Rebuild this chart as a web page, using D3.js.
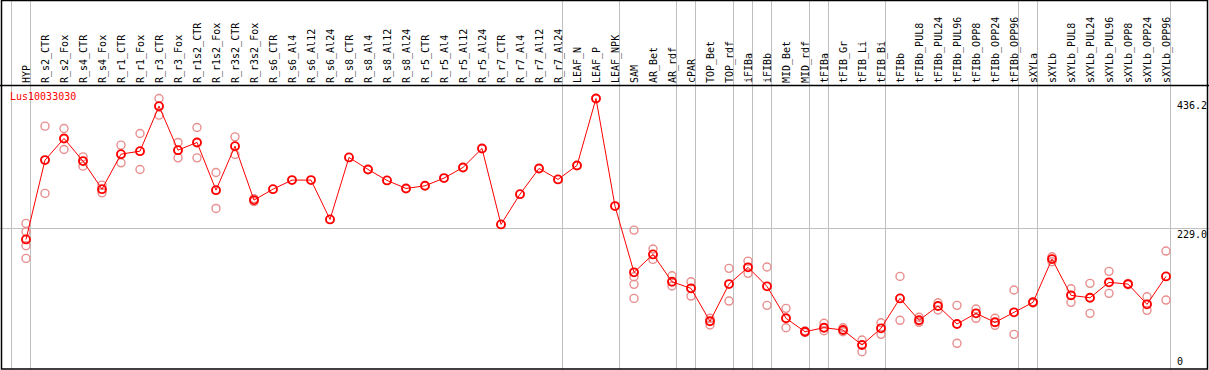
<!DOCTYPE html>
<html lang="en">
<head>
<script src="https://d3js.org/d3.v7.min.js"></script>
<style>
  body { margin: 0; background: #fff; }
  text { font-family: "DejaVu Sans Mono", monospace; font-size: 10px; }
  .grid { stroke: #c0c0c0; stroke-width: 1px; }
  .reps { fill: none; stroke: #e88e8e; stroke-width: 1.4px; }
  .means { fill: none; stroke: #ff0000; stroke-width: 1.9px; }
</style>
</head>
<body>
<svg id="chart" width="1209" height="370"></svg>
<script>
// sample names along the top
const categories = ["HYP","R_s2_CTR","R_s2_Fox","R_s4_CTR","R_s4_Fox","R_r1_CTR","R_r1_Fox","R_r3_CTR","R_r3_Fox",
  "R_r1s2_CTR","R_r1s2_Fox","R_r3s2_CTR","R_r3s2_Fox","R_s6_CTR","R_s6_Al4","R_s6_Al12","R_s6_Al24",
  "R_s8_CTR","R_s8_Al4","R_s8_Al12","R_s8_Al24","R_r5_CTR","R_r5_Al4","R_r5_Al12","R_r5_Al24",
  "R_r7_CTR","R_r7_Al4","R_r7_Al12","R_r7_Al24","LEAF_N","LEAF_P","LEAF_NPK","SAM","AR_Bet","AR_rdf",
  "cPAR","TOP_Bet","TOP_rdf","iFIBa","iFIBb","MID_Bet","MID_rdf","tFIBa","tFIB_Gr","tFIB_Li","tFIB_Bi",
  "tFIBb","tFIBb_PUL8","tFIBb_PUL24","tFIBb_PUL96","tFIBb_OPP8","tFIBb_OPP24","tFIBb_OPP96",
  "sXYLa","sXYLb","sXYLb_PUL8","sXYLb_PUL24","sXYLb_PUL96","sXYLb_OPP8","sXYLb_OPP24","sXYLb_OPP96"];

// mean expression per sample
const means = [211.4, 337.9, 372.4, 336.3, 291.6, 347.4, 352.2, 424.0, 353.8, 366.1, 290.0, 360.2, 274.1,
  291.6, 306.0, 306.0, 243.3, 342.2, 323.0, 305.5, 292.7, 296.9, 309.2, 326.2, 356.5,
  235.3, 283.6, 324.6, 307.1, 329.4, 436.2, 264.5, 158.8, 187.5, 143.8, 133.3, 80.7, 140.1,
  166.8, 136.5, 85.5, 64.1, 70.5, 66.8, 42.9, 69.5, 117.3, 82.3, 105.1, 76.4, 93.4, 79.1, 95.0,
  111.0, 180.0, 122.1, 118.3, 142.9, 140.1, 107.8, 152.4];

// individual replicates (empty = single sample)
const replicates = [
  [236.9, 223.5, 201.2, 181.1], [392.1, 284.8], [388.4, 354.9], [343.1, 328.3], [298.0, 285.7],
  [361.8, 333.6], [380.4, 323.0], [436.2, 409.6], [366.1, 341.5], [390.0, 341.5], [318.2, 260.8],
  [375.0, 346.9], [276.5, 271.7],
  [], [], [], [], [], [], [], [], [], [], [], [], [], [], [], [], [], [], [],
  [226.2, 151.8, 139.7, 117.3], [196.0, 179.5], [153.4, 137.0], [143.8, 121.0], [85.5, 74.8],
  [165.2, 113.0], [176.8, 157.2], [167.3, 106.2], [101.4, 70.5], [65.5, 62.8], [77.5, 65.7],
  [70.5, 64.1], [50.9, 32.2], [78.4, 59.9], [152.4, 82.3], [87.1, 79.1], [110.3, 98.7],
  [106.2, 45.6], [100.3, 85.5], [85.5, 74.3], [130.6, 59.9], [112.0, 110.0], [183.7, 175.7],
  [132.7, 111.0], [141.3, 93.4], [160.4, 125.3], [141.0, 139.0], [119.9, 98.2], [192.8, 114.6]];

// sample-group boundaries (index where a new group starts)
const groupBreaks = [0, 1, 29, 32, 35, 36, 38, 39, 40, 42, 43, 46, 53, 54, 61];
const yTicks = [0, 229.0, 436.2];
const refLine = 229.0;
const title = "Lus10033030";

const svg = d3.select("#chart");
const W = 1209, H = 370;
const headerY = 85;

const x = d3.scaleLinear().domain([0, categories.length - 1]).range([26, 1166]);
const y = d3.scaleLinear().domain([0, 436.2]).range([371.9, 98.5]);

// group separators
svg.append("g").selectAll("line")
  .data(groupBreaks)
  .join("line")
  .attr("class", "grid")
  .attr("x1", d => Math.round(x(d - 0.8)) + 0.5)
  .attr("x2", d => Math.round(x(d - 0.8)) + 0.5)
  .attr("y1", 0).attr("y2", H);

// reference line
svg.append("line")
  .attr("class", "grid")
  .attr("x1", 0).attr("x2", W)
  .attr("y1", Math.round(y(refLine)) + 0.5)
  .attr("y2", Math.round(y(refLine)) + 0.5);

// replicate circles
const repPts = [];
replicates.forEach((r, i) => r.forEach(v => repPts.push({ i: i, v: v })));
svg.append("g").selectAll("circle")
  .data(repPts)
  .join("circle")
  .attr("class", "reps")
  .attr("cx", d => x(d.i))
  .attr("cy", d => y(d.v))
  .attr("r", 4);

// mean line
const line = d3.line().x((d, i) => x(i)).y(d => y(d));
svg.append("path")
  .datum(means)
  .attr("fill", "none")
  .attr("stroke", "#ff0000")
  .attr("stroke-width", 1)
  .attr("d", line);

svg.append("g").selectAll("circle")
  .data(means)
  .join("circle")
  .attr("class", "means")
  .attr("cx", (d, i) => x(i))
  .attr("cy", d => y(d))
  .attr("r", 4);

// sample labels, vertical
svg.append("g").selectAll("text")
  .data(categories)
  .join("text")
  .attr("transform", (d, i) => `translate(${x(i) + 3.6},83) rotate(-90)`)
  .attr("fill", "#000")
  .text(d => d);

// y labels on the right
svg.append("g").selectAll("text")
  .data(yTicks)
  .join("text")
  .attr("x", 1177)
  .attr("y", d => Math.min(y(d) + 10, 365))
  .attr("fill", "#000")
  .text(d => d === 0 ? "0" : d.toFixed(1));

svg.append("text")
  .attr("x", 10).attr("y", 100)
  .attr("fill", "#ff0000")
  .text(title);

// header rule and frame
svg.append("line")
  .attr("x1", 0).attr("x2", W)
  .attr("y1", headerY + 0.5).attr("y2", headerY + 0.5)
  .attr("stroke", "#000").attr("stroke-width", 1.5);

svg.append("rect")
  .attr("x", 1.5).attr("y", 0.5)
  .attr("width", 1206).attr("height", 368.5)
  .attr("fill", "none")
  .attr("stroke", "#000")
  .attr("stroke-width", 1.5);
</script>
</body>
</html>
